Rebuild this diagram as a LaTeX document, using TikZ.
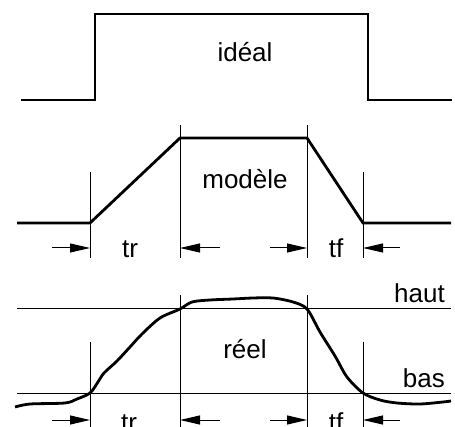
\documentclass[tikz,border=0pt]{standalone}
\usepackage{fontspec}
\setmainfont{Liberation Sans}
\usetikzlibrary{arrows.meta,positioning}
\tikzset{
  wave/.style={line width=2.8pt, line join=miter},
  guide/.style={line width=1pt},
  dim/.style={-{Triangle[length=20pt,width=9pt]}, line width=1pt},
  lbl/.style={font=\fontsize{26}{30}\selectfont, inner sep=0pt, anchor=base},
}
\begin{document}
\begin{tikzpicture}[x=1pt, y=-1pt]
  \useasboundingbox (0,0) rectangle (455,427);
  % ideal pulse
  \draw[wave] (21,100) -- (95,100) -- (95,14) -- (368,14) -- (368,100) -- (452,100);
  \node[lbl] (ideal) at (245,62) {idéal};
  % model pulse
  \draw[wave] (17,223) -- (90,223) -- (180,138) -- (307,138) -- (363,223) -- (451,223);
  \node[lbl] (model) at (245,189) {modèle};
  \coordinate (ma) at (90,248);  \coordinate (mb) at (180,248);
  \coordinate (mc) at (307,248); \coordinate (md) at (363,248);
  \draw[guide] (90,172) -- (90,258);
  \draw[guide] (180,125) -- (180,258);
  \draw[guide] (307,125) -- (307,258);
  \draw[guide] (363,172) -- (363,258);
  \draw[dim] ([xshift=-38pt]ma) -- (ma);
  \draw[dim] ([xshift=40pt]mb) -- (mb);
  \draw[dim] ([xshift=-37pt]mc) -- (mc);
  \draw[dim] ([xshift=37pt]md) -- (md);
  \node[lbl] (mtr) at (130,258) {tr};
  \node[lbl] (mtf) at (336,258) {tf};
  % real pulse
  \draw[guide] (17,309) -- (451,309);
  \draw[guide] (17,393) -- (451,393);
  \node[lbl, anchor=base east] (high) at (445,303) {haut};
  \node[lbl, anchor=base east] (low) at (445,388) {bas};
  \draw[wave, line join=round] plot[smooth] coordinates {
    (15,407) (30,404) (65,403) (77,399) (90,393) (98,382) (104,373)
    (117,361) (130,347) (142,334) (160,318) (180,309) (192,302)
    (210,300) (233,299) (253,298) (273,298) (293,302) (307,309)
    (320,332) (335,356) (347,377) (363,393) (380,400) (397,403)
    (420,404) (443,402) (451,401)};
  \node[lbl] (real) at (245,359) {réel};
  \coordinate (ra) at (90,420);  \coordinate (rb) at (180,420);
  \coordinate (rc) at (307,420); \coordinate (rd) at (363,420);
  \draw[guide] (90,342) -- (90,427);
  \draw[guide] (180,295) -- (180,427);
  \draw[guide] (307,295) -- (307,427);
  \draw[guide] (363,342) -- (363,427);
  \draw[dim] ([xshift=-38pt]ra) -- (ra);
  \draw[dim] ([xshift=40pt]rb) -- (rb);
  \draw[dim] ([xshift=-37pt]rc) -- (rc);
  \draw[dim] ([xshift=37pt]rd) -- (rd);
  \node[lbl] (rtr) at (129,431) {tr};
  \node[lbl] (rtf) at (336,431) {tf};
\end{tikzpicture}
\end{document}
